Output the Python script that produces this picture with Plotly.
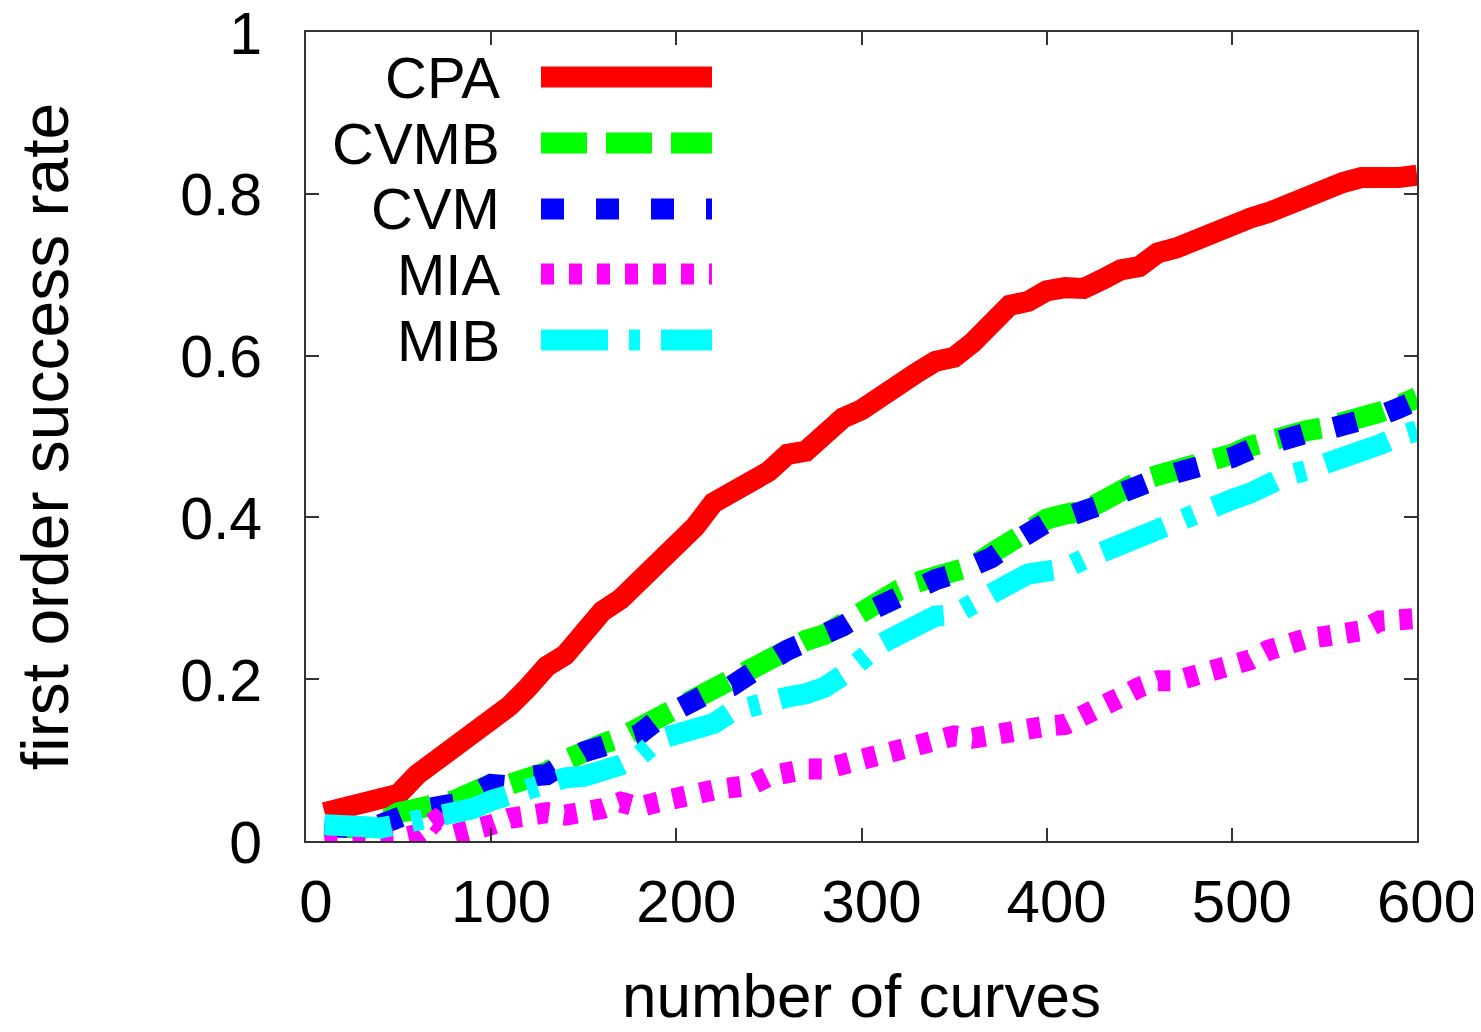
import plotly.graph_objects as go

# ---------------- data ----------------
curves = [10, 20, 30, 40, 50, 60, 70, 80, 90, 100,
          110, 120, 130, 140, 150, 160, 170, 180, 190, 200,
          210, 220, 230, 240, 250, 260, 270, 280, 290, 300,
          310, 320, 330, 340, 350, 360, 370, 380, 390, 400,
          410, 420, 430, 440, 450, 460, 470, 480, 490, 500,
          510, 520, 530, 540, 550, 560, 570, 580, 590, 600]

cpa = [0.035, 0.040, 0.042, 0.052, 0.058, 0.082, 0.099, 0.116, 0.128, 0.150,
       0.167, 0.190, 0.216, 0.230, 0.258, 0.284, 0.299, 0.320, 0.344, 0.369,
       0.388, 0.418, 0.435, 0.444, 0.457, 0.478, 0.482, 0.502, 0.523, 0.533,
       0.549, 0.570, 0.579, 0.593, 0.598, 0.616, 0.635, 0.662, 0.667, 0.680,
       0.684, 0.683, 0.694, 0.706, 0.710, 0.727, 0.733, 0.744, 0.753, 0.762,
       0.770, 0.777, 0.788, 0.798, 0.806, 0.814, 0.820, 0.817, 0.820, 0.823]

cvmb = [0.020, 0.018, 0.015, 0.022, 0.035, 0.040, 0.043, 0.050, 0.060, 0.070,
        0.070, 0.075, 0.085, 0.100, 0.112, 0.120, 0.128, 0.140, 0.155, 0.168,
        0.182, 0.190, 0.200, 0.215, 0.228, 0.240, 0.248, 0.255, 0.270, 0.285,
        0.298, 0.310, 0.320, 0.325, 0.332, 0.340, 0.355, 0.370, 0.385, 0.398,
        0.404, 0.408, 0.420, 0.435, 0.445, 0.452, 0.458, 0.464, 0.468, 0.478,
        0.488, 0.496, 0.503, 0.507, 0.511, 0.516, 0.522, 0.530, 0.538, 0.548]

cvm = [0.018, 0.016, 0.016, 0.020, 0.030, 0.038, 0.042, 0.046, 0.058, 0.070,
       0.068, 0.080, 0.082, 0.098, 0.110, 0.117, 0.125, 0.132, 0.150, 0.162,
       0.178, 0.186, 0.192, 0.210, 0.222, 0.236, 0.245, 0.255, 0.266, 0.280,
       0.292, 0.306, 0.316, 0.323, 0.330, 0.337, 0.350, 0.366, 0.380, 0.394,
       0.400, 0.405, 0.416, 0.430, 0.442, 0.448, 0.455, 0.460, 0.465, 0.474,
       0.484, 0.492, 0.500, 0.504, 0.508, 0.513, 0.520, 0.526, 0.535, 0.545]

mia = [0.000, 0.000, 0.000, 0.000, 0.003, 0.008, 0.025, 0.008, 0.012, 0.020,
       0.028, 0.033, 0.035, 0.032, 0.034, 0.040, 0.048, 0.042, 0.048, 0.055,
       0.060, 0.063, 0.066, 0.069, 0.080, 0.087, 0.089, 0.089, 0.094, 0.099,
       0.105, 0.114, 0.115, 0.120, 0.130, 0.127, 0.132, 0.136, 0.141, 0.142,
       0.144, 0.154, 0.162, 0.178, 0.190, 0.198, 0.198, 0.203, 0.210, 0.217,
       0.224, 0.236, 0.246, 0.250, 0.253, 0.257, 0.260, 0.272, 0.274, 0.275]

mib = [0.020, 0.022, 0.018, 0.016, 0.020, 0.028, 0.030, 0.033, 0.040, 0.050,
       0.058, 0.065, 0.073, 0.078, 0.080, 0.086, 0.094, 0.105, 0.125, 0.132,
       0.138, 0.145, 0.160, 0.168, 0.172, 0.178, 0.182, 0.190, 0.205, 0.225,
       0.243, 0.255, 0.268, 0.278, 0.280, 0.295, 0.310, 0.318, 0.330, 0.334,
       0.337, 0.348, 0.358, 0.365, 0.372, 0.385, 0.398, 0.408, 0.415, 0.422,
       0.430, 0.442, 0.452, 0.458, 0.465, 0.472, 0.480, 0.490, 0.500, 0.507]

series_names = ["CPA", "CVMB", "CVM", "MIA", "MIB"]
series_values = [cpa, cvmb, cvm, mia, mib]
series_colors = ["#ff0000", "#00ff00", "#0000ff", "#ff00ff", "#00ffff"]
series_dashes = ["solid", "46px,19px", "23px,32px", "13px,15px", "67px,21px,11px,21px"]

x_ticks = [0, 100, 200, 300, 400, 500, 600]
y_ticks = [0, 0.2, 0.4, 0.6, 0.8, 1]
y_tick_labels = ["0", "0.2", "0.4", "0.6", "0.8", "1"]

x_title = "number of curves"
y_title = "first order success rate"

# ---------------- figure ----------------
# the page body has an 8px margin, so the figure is offset by 8px
OFF = 8
W, H = 1481 - OFF, 1032 - OFF
L, R, T, B = 306 - OFF, 64, 32 - OFF, 191
FONT = "Liberation Sans, Arial, Helvetica, sans-serif"
LW = 21

fig = go.Figure()
for name, vals, col, dash in zip(series_names, series_values, series_colors, series_dashes):
    fig.add_trace(go.Scatter(
        x=curves, y=vals, mode="lines", name=name,
        line=dict(color=col, width=LW, dash=dash),
        showlegend=False,
    ))

# legend drawn manually (gnuplot style: text right-aligned, long sample line)
pw = W - L - R
ph = H - T - B
def px_x(p):
    return (p - OFF - L) / pw
def px_y(p):
    return (H - B - (p - OFF)) / ph

legend_rows = [77, 143, 209, 274, 340]
for name, col, dash, ry in zip(series_names, series_colors, series_dashes, legend_rows):
    fig.add_shape(type="line", xref="paper", yref="paper",
                  x0=px_x(541), x1=px_x(712), y0=px_y(ry), y1=px_y(ry),
                  line=dict(color=col, width=21, dash=dash))
    fig.add_annotation(x=px_x(502), y=px_y(ry), xref="paper", yref="paper",
                       text=name, showarrow=False, xanchor="right", yanchor="middle",
                       font=dict(family=FONT, size=58, color="black"))

axis_common = dict(
    showline=True, linecolor="#333333", linewidth=2, mirror="ticks",
    ticks="inside", ticklen=13, tickwidth=2, tickcolor="#333333",
    showgrid=False, zeroline=False, automargin=False,
    ticklabeloverflow="allow",
)

fig.update_xaxes(range=[0, 600], tickvals=x_ticks, ticklabelstandoff=7, ticklabelshift=10,
                 tickfont=dict(family=FONT, size=60, color="black"),
                 title=dict(text=x_title, font=dict(family=FONT, size=62, color="black"), standoff=40),
                 **axis_common)
fig.update_yaxes(range=[0, 1], tickvals=y_ticks, ticktext=y_tick_labels, ticklabelstandoff=30,
                 ticklabelshift=1,
                 tickfont=dict(family=FONT, size=59, color="black"),
                 title=dict(text=y_title, font=dict(family=FONT, size=66, color="black"), standoff=110),
                 **axis_common)

fig.update_layout(
    width=W, height=H, autosize=False,
    margin=dict(l=L, r=R, t=T, b=B, pad=0),
    plot_bgcolor="white", paper_bgcolor="white",
    showlegend=False,
)

fig.write_html("out.html", config={"displayModeBar": False})
